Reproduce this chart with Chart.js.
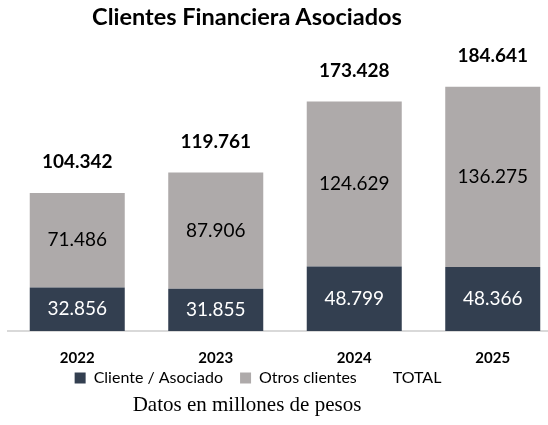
<!DOCTYPE html>
<html><head><meta charset="utf-8">
<script src="https://cdn.jsdelivr.net/npm/chart.js@4/dist/chart.umd.min.js"></script>
<style>
html,body{margin:0;padding:0;background:#fff;width:548px;height:425px;overflow:hidden;position:relative}
#wrap{position:absolute;left:0;top:0;width:562px;height:425px}
#title{position:absolute;left:0;width:494px;top:2px;line-height:28px;text-align:center;font:bold 23.5px Lato,sans-serif;color:#000}
#foot{position:absolute;left:0;width:494px;top:392px;line-height:26px;text-align:center;font:21px "Liberation Serif",serif;color:#000}
</style></head>
<body>
<div id="wrap"><canvas id="c"></canvas></div>
<div id="title">Clientes Financiera Asociados</div>
<div id="foot">Datos en millones de pesos</div>
<script>
const years = ['2022','2023','2024','2025'];
const cliente = [32856, 31855, 48799, 48366];
const otros = [71486, 87906, 124629, 136275];
const total = [104342, 119761, 173428, 184641];

const DARK = '#333F50', GRAY = '#AEAAAA';
const fmt = v => String(v).replace(/\B(?=(\d{3})+(?!\d))/g, '.');

const labelPlugin = {
  id: 'labels',
  afterLayout(chart) {
    const lg = chart.legend;
    if (lg) { lg.left -= 27; lg.right -= 27; lg.top -= 16; lg.bottom -= 16; }
  },
  afterDatasetsDraw(chart) {
    const ctx = chart.ctx;
    ctx.save();
    ctx.textAlign = 'center';
    ctx.textBaseline = 'middle';
    chart.data.datasets.forEach((ds, di) => {
      const meta = chart.getDatasetMeta(di);
      meta.data.forEach((el, i) => {
        if (ds.type === 'line') {
          ctx.font = 'bold 19px Lato, sans-serif';
          ctx.fillStyle = '#000';
          ctx.fillText(fmt(ds.data[i]), el.x, el.y - 31);
        } else {
          ctx.font = '19px Lato, sans-serif';
          ctx.fillStyle = di === 0 ? '#fff' : '#000';
          ctx.fillText(fmt(ds.data[i]), el.x, (el.y + el.base) / 2);
        }
      });
    });
    ctx.restore();
  }
};

new Chart(document.getElementById('c'), {
  data: {
    labels: years,
    datasets: [
      {type:'bar', label:'Cliente / Asociado', data: cliente, backgroundColor: DARK, stack:'s', order:2},
      {type:'bar', label:'Otros clientes', data: otros, backgroundColor: GRAY, stack:'s', order:2},
      {type:'line', label:'TOTAL', data: total, showLine:false, pointRadius:0, borderColor:'transparent', backgroundColor:'transparent', order:1}
    ]
  },
  options: {
    responsive: true,
    maintainAspectRatio: false,
    animation: false,
    layout: {padding: {top: 40, left: 8, right: 0, bottom: 13}},
    datasets: {bar: {categoryPercentage: 1, barPercentage: 0.686}},
    scales: {
      x: {
        stacked: true,
        grid: {display: false, drawTicks: false},
        border: {display: true, color: '#D9D9D9', width: 2},
        ticks: {color: '#000', font: {family: 'Lato', size: 15, weight: 'bold'}, padding: 18},
        afterFit(scale) { scale.height = 38; }
      },
      y: {
        stacked: true, display: false, min: 0, max: 220000
      }
    },
    plugins: {
      legend: {
        position: 'bottom',
        labels: {
          color: '#000',
          font: {family: 'Lato', size: 16},
          boxWidth: 11, boxHeight: 11, padding: 17,
          generateLabels(chart) {
            return chart.data.datasets.map((ds, i) => ({
              text: ds.label,
              fillStyle: ds.type === 'line' ? 'transparent' : ds.backgroundColor,
              strokeStyle: 'transparent',
              lineWidth: 0,
              fontColor: '#000',
              datasetIndex: i,
              hidden: false
            }));
          }
        }
      },
      tooltip: {enabled: false}
    }
  },
  plugins: [labelPlugin]
});
</script>
</body></html>
